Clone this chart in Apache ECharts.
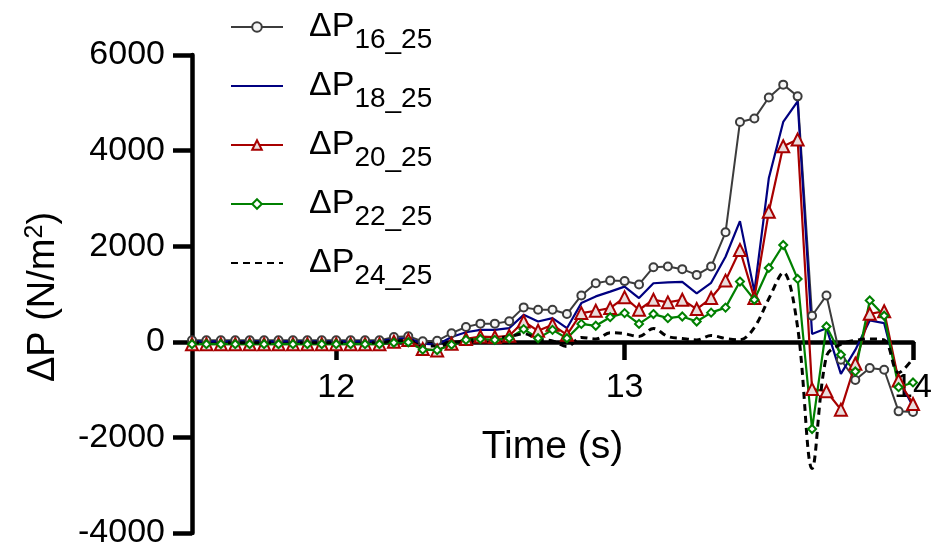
<!DOCTYPE html>
<html>
<head>
<meta charset="utf-8">
<script src="https://cdn.jsdelivr.net/npm/echarts@6/dist/echarts.min.js"></script>
<style>
  html, body { margin: 0; padding: 0; background: #fff; }
  #chart { width: 934px; height: 551px; }
</style>
</head>
<body>
<div id="chart"></div>
<script>
// sample times (s), one every 0.05 s
var time = [11.5, 11.55, 11.6, 11.65, 11.7, 11.75, 11.8, 11.85, 11.9, 11.95,
  12.0, 12.05, 12.1, 12.15, 12.2, 12.25, 12.3, 12.35, 12.4, 12.45,
  12.5, 12.55, 12.6, 12.65, 12.7, 12.75, 12.8, 12.85, 12.9, 12.95,
  13.0, 13.05, 13.1, 13.15, 13.2, 13.25, 13.3, 13.35, 13.4, 13.45,
  13.5, 13.55, 13.6, 13.65, 13.7, 13.75, 13.8, 13.85, 13.9, 13.95, 14.0]

var dp16 = [30, 30, 30, 30, 30, 30, 30, 30, 30, 30,
  30, 30, 30, 30, 100, 115, 10, 20, 180, 310,
  380, 380, 430, 720, 670, 670, 580, 970, 1225, 1280,
  1270, 1200, 1560, 1575, 1520, 1400, 1575, 2290, 4600, 4670,
  5110, 5380, 5135, 545, 970, -375, -800, -550, -585, -1455, -1470]

var dp18 = [10, 10, 10, 10, 10, 10, 10, 10, 10, 10,
  10, 10, 10, 10, 60, 80, -40, -60, 100, 200,
  250, 250, 285, 565, 425, 495, 285, 810, 950, 1050,
  1155, 915, 1225, 1245, 1255, 1015, 1235, 1780, 2525, 1050,
  3420, 4600, 5030, 165, 285, -670, -170, 445, 390, -795, -1350]

var dp20 = [-50, -50, -50, -50, -50, -50, -50, -50, -50, -50,
  -50, -50, -50, -50, 0, 40, -150, -180, -40, 60,
  110, 100, 125, 425, 230, 355, 145, 600, 650, 705,
  930, 670, 880, 825, 880, 685, 915, 1280, 1920, 915,
  2720, 4090, 4230, -990, -1035, -1420, -460, 585, 640, -810, -1300]

var dp22 = [-50, -50, -50, -50, -50, -50, -50, -50, -50, -50,
  -50, -50, -50, -50, -20, -10, -165, -175, -60, 40,
  60, 40, 75, 265, 75, 250, 75, 375, 335, 515,
  600, 375, 580, 495, 530, 425, 610, 715, 1260, 880,
  1545, 2025, 1315, -1825, 320, -270, -620, 865, 545, -950, -850]

var dp24 = [-20, -20, -20, -20, -20, -20, -20, -20, -20, -20,
  -20, -20, -20, -20, 20, 30, -80, -90, -20, 20,
  60, 80, 110, 170, 60, 20, -100, 90, 60, 190,
  170, 110, 280, 110, 70, 40, 130, 70, 40, 300,
  900, 1450, 300, -2650, -300, -50, 30, 60, 40, -650, -350]

var seriesNames = ['ΔP16_25', 'ΔP18_25', 'ΔP20_25', 'ΔP22_25', 'ΔP24_25']
var xTicks = [12, 13, 14]

var FONT = 'Liberation Sans'
var chart = echarts.init(document.getElementById('chart'))

function pairs(arr) {
  return arr.map(function (v, i) { return [time[i], v] })
}

var option = {
  animation: false,
  backgroundColor: '#fff',
  textStyle: { fontFamily: FONT, color: '#000' },
  grid: { left: 192, right: 21, top: 55, bottom: 18, containLabel: false, outerBoundsMode: 'none' },
  legend: {
    orient: 'vertical',
    left: 230,
    top: 0,
    padding: 0,
    itemWidth: 52,
    itemHeight: 12,
    itemGap: 5,
    data: [
      { name: seriesNames[0] },
      { name: seriesNames[1], itemStyle: { opacity: 0 } },
      { name: seriesNames[2] },
      { name: seriesNames[3] },
      { name: seriesNames[4], itemStyle: { opacity: 0 } }
    ],
    formatter: function (name) {
      return '{m|ΔP}{s|' + name.slice(2) + '}'
    },
    textStyle: {
      rich: {
        m: { fontFamily: FONT, fontSize: 34, lineHeight: 38, color: '#000', padding: [0, 0, 0, 21] },
        s: { fontFamily: FONT, fontSize: 28, lineHeight: 28, color: '#000', padding: [26, 0, 0, 0] }
      }
    }
  },
  // y axis title, placed by hand (rotated)
  graphic: [{
    type: 'text',
    x: 44,
    y: 297,
    rotation: Math.PI / 2,
    style: {
      text: '{a|ΔP (N/m}{b|2}{a|)}',
      align: 'center',
      verticalAlign: 'middle',
      rich: {
        a: { fontFamily: FONT, fontSize: 38, lineHeight: 42, fill: '#000', color: '#000' },
        b: { fontFamily: FONT, fontSize: 25, lineHeight: 25, fill: '#000', color: '#000', padding: [0, 0, 17, 0] }
      }
    }
  }],
  xAxis: {
    type: 'value',
    min: 11.5,
    max: 14,
    // the axis sits on y = 0: lift it from the grid bottom
    offset: -191,
    name: 'Time (s)',
    nameLocation: 'middle',
    nameGap: 86,
    nameTextStyle: { fontFamily: FONT, fontSize: 39, color: '#000' },
    splitLine: { show: false },
    axisLine: { onZero: false, lineStyle: { color: '#000', width: 4.5 } },
    axisTick: { customValues: xTicks, length: 18, lineStyle: { color: '#000', width: 4.5 } },
    axisLabel: { customValues: xTicks, margin: 29, fontSize: 34, color: '#000', fontFamily: FONT }
  },
  yAxis: {
    type: 'value',
    min: -4000,
    max: 6000,
    interval: 2000,
    splitLine: { show: false },
    axisLine: { show: true, onZero: false, lineStyle: { color: '#000', width: 4.5 } },
    axisTick: { show: true, length: 19, lineStyle: { color: '#000', width: 4.5 } },
    axisLabel: {
      margin: 27, fontSize: 34, color: '#000', fontFamily: FONT,
      formatter: function (v) { return String(v) }
    }
  },
  series: [
    {
      name: seriesNames[0],
      type: 'line',
      data: pairs(dp16),
      symbol: 'circle',
      symbolSize: 8,
      lineStyle: { color: '#3c3c3c', width: 2 },
      itemStyle: { color: '#f6f6f6', borderColor: '#3c3c3c', borderWidth: 2 },
      emphasis: { disabled: true }
    },
    {
      name: seriesNames[1],
      type: 'line',
      data: pairs(dp18),
      symbol: 'none',
      lineStyle: { color: '#000080', width: 2.2 },
      itemStyle: { color: '#000080' },
      emphasis: { disabled: true }
    },
    {
      name: seriesNames[2],
      type: 'line',
      data: pairs(dp20),
      symbol: 'triangle',
      symbolSize: 12,
      lineStyle: { color: '#a80000', width: 2.2 },
      itemStyle: { color: '#eadcdc', borderColor: '#a80000', borderWidth: 2 },
      emphasis: { disabled: true }
    },
    {
      name: seriesNames[3],
      type: 'line',
      data: pairs(dp22),
      symbol: 'diamond',
      symbolSize: 8,
      lineStyle: { color: '#008000', width: 2.2 },
      itemStyle: { color: '#ffffff', borderColor: '#008000', borderWidth: 2 },
      emphasis: { disabled: true }
    },
    {
      name: seriesNames[4],
      type: 'line',
      data: pairs(dp24),
      symbol: 'none',
      smooth: 0.35,
      lineStyle: { color: '#000', width: 3, type: [7, 5] },
      itemStyle: { color: '#000' },
      emphasis: { disabled: true }
    }
  ]
}

chart.setOption(option)
</script>
</body>
</html>
